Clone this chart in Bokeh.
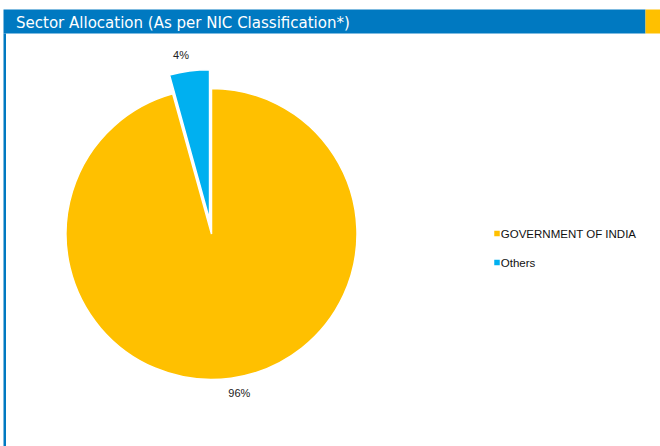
import math
from bokeh.plotting import figure
from bokeh.models import Range1d
from bokeh.core.properties import value
from bokeh.embed import file_html
from bokeh.resources import INLINE

# ---- data ----
title_text = "Sector Allocation (As per NIC Classification*)"
sectors = ["GOVERNMENT OF INDIA", "Others"]
shares = [95.7, 4.3]
labels = ["96%", "4%"]
colors = ["#FFC000", "#00B0F0"]
exploded = [False, True]

W, H = 660, 446
def px(X):
    return X
def py(Y):
    return H - Y

p = figure(width=W, height=H, output_backend="svg", toolbar_location=None,
           x_range=Range1d(0, W), y_range=Range1d(0, H), min_border=0)
p.axis.visible = False
p.grid.visible = False
p.outline_line_color = None
p.background_fill_color = "white"
p.border_fill_color = "white"

# title bar
p.quad(left=[px(3)], right=[px(645)], top=[py(9)], bottom=[py(33)], fill_color="#0079C1", line_color=None)
p.quad(left=[px(645)], right=[px(660)], top=[py(9)], bottom=[py(33)], fill_color="#FFC000", line_color=None)
p.quad(left=[px(3)], right=[px(5.5)], top=[py(33)], bottom=[py(446)], fill_color="#0079C1", line_color=None)
p.text(x=[px(15.5)], y=[py(21)], text=[title_text], text_color="white",
       text_font=value("'DejaVu Sans Condensed', 'Liberation Sans Narrow', 'DejaVu Sans', sans-serif"),
       text_font_size="16.7px", text_baseline="middle", text_align="left")

# pie
cx, cy, R = px(211), py(233.5), 145.5
explode_d = 14.5
explode_extra_r = 4.5
label_r = 161
total = sum(shares)
ang = 90.0
for name, s, lab, col, ex in zip(sectors, shares, labels, colors, exploded):
    sweep = 360.0 * s / total
    end = ang
    start = ang - sweep
    mid = math.radians((start + end) / 2)
    ox = oy = 0.0
    rr = R
    if ex:
        ox = explode_d * math.cos(mid)
        oy = explode_d * math.sin(mid)
        rr = R + explode_extra_r
    p.wedge(x=[cx + ox], y=[cy + oy], radius=rr,
            start_angle=math.radians(start), end_angle=math.radians(end),
            direction="anticlock", fill_color=col, line_color="white", line_width=1.5)
    shift = math.radians(2.2) if math.cos(mid) < 0 else -math.radians(2.2)
    if math.sin(mid) < 0:
        shift = -shift
    la = mid + shift
    lx = cx + label_r * math.cos(la) + (ox * 1.4 if ex else 0)
    ly = cy + label_r * math.sin(la) + (oy * 1.4 if ex else 0)
    p.text(x=[lx], y=[ly], text=[lab], text_font=value("Liberation Sans"),
           text_font_size="11px", text_color="#222222", text_align="center", text_baseline="middle")
    ang = start

# legend
leg_x = px(496.5)
leg_y0 = py(233)
leg_step = 29
for i, (name, col) in enumerate(zip(sectors, colors)):
    yy = leg_y0 - i * leg_step
    p.rect(x=[leg_x], y=[yy], width=5.5, height=5.5, fill_color=col, line_color=None)
    p.text(x=[leg_x + 3.8], y=[yy], text=[name], text_font=value("Liberation Sans"),
           text_font_size="11.5px", text_color="#111111", text_align="left", text_baseline="middle")

open("out.html", "w").write(file_html(p, INLINE))
